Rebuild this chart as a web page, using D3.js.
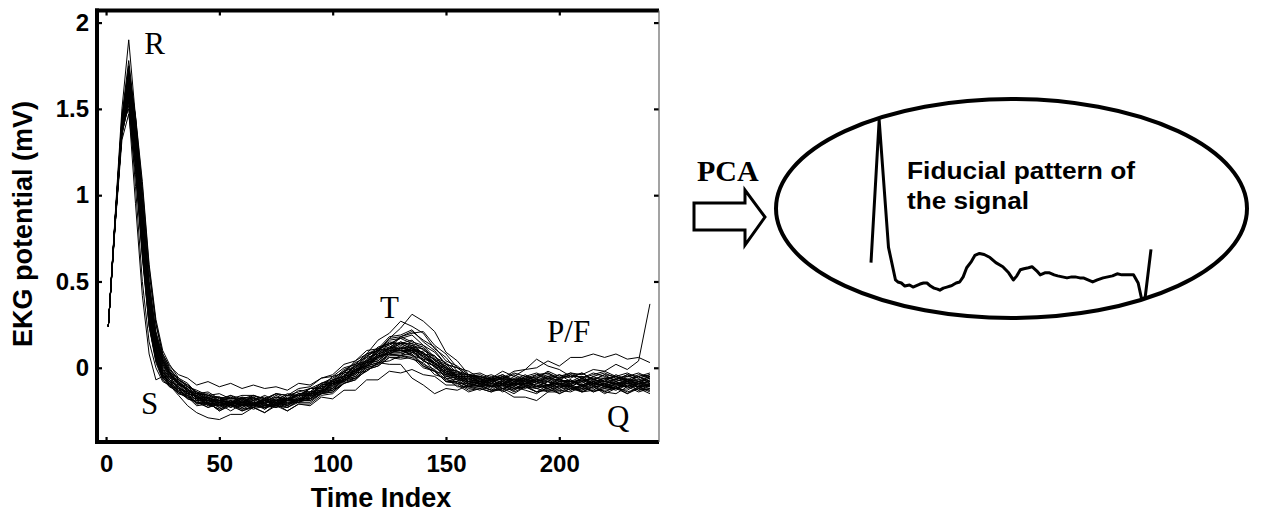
<!DOCTYPE html>
<html>
<head>
<meta charset="utf-8">
<script src="https://cdn.jsdelivr.net/npm/d3@7"></script>
<style>
  html, body { margin: 0; padding: 0; background: #fff; }
  svg { display: block; }
</style>
</head>
<body>
<svg id="fig" width="1261" height="512"></svg>
<script>
// Sample positions (time index) shared by every recorded beat
const timeIndex = [1, 4, 7, 10, 13, 16, 19, 22,
  25, 28, 32, 36, 40, 45, 50, 55, 60, 65, 70, 75, 80, 85, 90, 95,
  100, 105, 110, 115, 120, 125, 130, 135, 140, 145, 150, 155, 160,
  165, 170, 175, 180, 185, 190, 195, 200, 205, 210, 215, 220, 225, 230, 235, 240];

// Aligned heartbeats, EKG potential in mV
const beats = [
  [0.24, 0.88, 1.50, 1.90, 1.45, 0.95, 0.45, 0.18,
   0.04, -0.03, -0.09, -0.11, -0.16, -0.15, -0.19, -0.16, -0.20, -0.17, -0.21, -0.17, -0.19, -0.15, -0.16, -0.10,
   -0.09, -0.03, -0.02, 0.05, 0.09, 0.17, 0.23, 0.31, 0.27, 0.21, 0.09, 0.04, -0.04,
   -0.05, -0.08, -0.06, -0.09, -0.05, -0.08, -0.10, -0.06, -0.10, -0.06, -0.09, -0.10, -0.06, -0.07, -0.09, -0.06],
  [0.24, 0.84, 1.38, 1.62, 1.22, 0.70, 0.28, 0.06,
   -0.05, -0.08, -0.13, -0.14, -0.19, -0.18, -0.23, -0.20, -0.22, -0.19, -0.24, -0.19, -0.22, -0.18, -0.18, -0.13,
   -0.13, -0.07, -0.06, 0.00, 0.02, 0.08, 0.07, 0.12, 0.08, 0.07, -0.01, -0.02, -0.08,
   -0.06, -0.11, -0.08, -0.12, -0.09, -0.07, -0.10, -0.12, -0.08, -0.10, -0.12, -0.08, -0.09, -0.11, -0.08, -0.10],
  [0.24, 0.83, 1.35, 1.55, 1.18, 0.68, 0.25, 0.04,
   -0.06, -0.09, -0.15, -0.16, -0.21, -0.20, -0.25, -0.22, -0.25, -0.23, -0.26, -0.21, -0.25, -0.21, -0.22, -0.17,
   -0.18, -0.13, -0.13, -0.07, -0.07, -0.02, -0.03, -0.01, -0.04, -0.05, -0.10, -0.10, -0.14,
   -0.12, -0.14, -0.12, -0.15, -0.11, -0.14, -0.12, -0.15, -0.12, -0.14, -0.11, -0.14, -0.15, -0.11, -0.14, -0.12],
  [0.24, 0.86, 1.42, 1.70, 1.42, 1.02, 0.55, 0.25,
   0.08, 0.01, -0.04, -0.06, -0.10, -0.08, -0.11, -0.09, -0.12, -0.10, -0.12, -0.11, -0.13, -0.09, -0.10, -0.06,
   -0.05, 0.00, 0.02, 0.08, 0.10, 0.15, 0.14, 0.14, 0.08, 0.05, -0.02, -0.03, -0.07,
   -0.05, -0.07, -0.04, -0.08, -0.05, -0.03, -0.06, -0.04, -0.06, -0.03, -0.07, -0.04, -0.05, -0.07, -0.04, -0.05],
  [0.24, 0.85, 1.40, 1.50, 0.95, 0.42, 0.08, -0.07,
   -0.05, -0.11, -0.12, -0.18, -0.19, -0.23, -0.20, -0.23, -0.20, -0.22, -0.21, -0.22, -0.19, -0.20, -0.16, -0.15,
   -0.09, -0.07, -0.01, 0.01, 0.07, 0.08, 0.11, 0.07, 0.05, -0.02, -0.04, -0.09, -0.09,
   -0.11, -0.08, -0.12, -0.09, -0.10, -0.08, -0.13, -0.10, -0.11, -0.08, -0.11, -0.10, -0.12, -0.08, -0.12, -0.09],
  [0.24, 0.84, 1.37, 1.60, 1.28, 0.78, 0.32, 0.09,
   -0.04, -0.10, -0.16, -0.22, -0.26, -0.29, -0.30, -0.27, -0.27, -0.23, -0.26, -0.22, -0.25, -0.21, -0.21, -0.16,
   -0.15, -0.09, -0.07, -0.01, 0.01, 0.06, 0.06, 0.07, 0.01, -0.02, -0.08, -0.09, -0.13,
   -0.12, -0.14, -0.10, -0.14, -0.11, -0.12, -0.10, -0.15, -0.12, -0.13, -0.10, -0.14, -0.11, -0.15, -0.12, -0.13],
  [0.24, 0.86, 1.43, 1.72, 1.46, 1.08, 0.60, 0.28,
   0.10, 0.02, -0.06, -0.09, -0.15, -0.14, -0.18, -0.16, -0.18, -0.16, -0.18, -0.15, -0.18, -0.13, -0.14, -0.09,
   -0.08, -0.02, 0.00, 0.07, 0.10, 0.17, 0.18, 0.21, 0.16, 0.12, 0.04, 0.01, -0.04,
   -0.03, -0.06, -0.02, -0.05, -0.01, 0.00, 0.04, 0.01, 0.06, 0.06, 0.08, 0.06, 0.08, 0.05, 0.06, 0.03],
  [0.24, 0.85, 1.39, 1.63, 1.26, 0.74, 0.30, 0.08,
   -0.03, -0.07, -0.12, -0.14, -0.19, -0.19, -0.22, -0.19, -0.22, -0.19, -0.20, -0.19, -0.19, -0.16, -0.16, -0.11,
   -0.10, -0.05, -0.03, 0.03, 0.06, 0.11, 0.11, 0.13, 0.08, 0.05, -0.02, -0.04, -0.08,
   -0.07, -0.09, -0.05, -0.09, -0.06, -0.06, -0.04, -0.06, -0.03, -0.04, -0.01, -0.02, 0.02, -0.01, 0.04, 0.37],
  [0.24, 0.83, 1.36, 1.52, 1.16, 0.66, 0.26, 0.06,
   -0.04, -0.09, -0.12, -0.17, -0.18, -0.21, -0.20, -0.22, -0.21, -0.23, -0.19, -0.22, -0.18, -0.19, -0.15, -0.14,
   -0.09, -0.08, -0.03, -0.02, 0.03, 0.02, 0.02, -0.06, -0.10, -0.15, -0.12, -0.13, -0.10,
   -0.11, -0.10, -0.13, -0.09, -0.10, -0.12, -0.14, -0.11, -0.10, -0.12, -0.13, -0.09, -0.12, -0.13, -0.09, -0.11],
  [0.24, 0.87, 1.46, 1.78, 1.44, 0.98, 0.50, 0.21,
   0.07, -0.01, -0.07, -0.11, -0.14, -0.17, -0.17, -0.21, -0.18, -0.21, -0.18, -0.21, -0.17, -0.17, -0.12, -0.11,
   -0.05, -0.03, 0.04, 0.08, 0.16, 0.20, 0.27, 0.24, 0.20, 0.11, 0.06, -0.02, -0.04,
   -0.08, -0.07, -0.08, -0.09, -0.07, -0.08, -0.10, -0.07, -0.08, -0.10, -0.07, -0.08, -0.10, -0.07, -0.08, -0.09],
  [0.24, 0.85, 1.41, 1.66, 1.30, 0.82, 0.38, 0.13,
   0.00, -0.06, -0.08, -0.14, -0.15, -0.19, -0.19, -0.20, -0.20, -0.21, -0.18, -0.22, -0.19, -0.19, -0.15, -0.14,
   -0.09, -0.07, -0.01, 0.02, 0.08, 0.10, 0.14, 0.11, 0.09, 0.02, -0.01, -0.06, -0.06,
   -0.10, -0.07, -0.11, -0.08, -0.06, -0.09, -0.11, -0.08, -0.07, -0.11, -0.08, -0.06, -0.09, -0.08, -0.11, -0.07],
  [0.24, 0.84, 1.39, 1.64, 1.33, 0.88, 0.42, 0.16,
   0.03, -0.04, -0.09, -0.12, -0.18, -0.18, -0.21, -0.20, -0.21, -0.18, -0.22, -0.19, -0.19, -0.16, -0.16, -0.11,
   -0.10, -0.04, -0.02, 0.04, 0.07, 0.12, 0.11, 0.12, 0.06, 0.03, -0.03, -0.05, -0.09,
   -0.08, -0.11, -0.07, -0.10, -0.12, -0.09, -0.07, -0.10, -0.11, -0.07, -0.10, -0.12, -0.09, -0.07, -0.10, -0.11],
  [0.24, 0.86, 1.42, 1.68, 1.36, 0.90, 0.44, 0.17,
   0.04, -0.03, -0.10, -0.12, -0.18, -0.17, -0.21, -0.20, -0.18, -0.22, -0.19, -0.20, -0.19, -0.19, -0.14, -0.13,
   -0.07, -0.05, 0.01, 0.04, 0.10, 0.12, 0.15, 0.12, 0.11, 0.04, 0.01, -0.05, -0.05,
   -0.08, -0.07, -0.10, -0.06, -0.09, -0.08, -0.06, -0.07, -0.09, -0.06, -0.10, -0.07, -0.05, -0.08, -0.07, -0.05],
  [0.24, 0.84, 1.37, 1.59, 1.20, 0.70, 0.27, 0.05,
   -0.06, -0.09, -0.14, -0.16, -0.20, -0.21, -0.24, -0.21, -0.24, -0.23, -0.22, -0.23, -0.21, -0.20, -0.18, -0.15,
   -0.12, -0.07, -0.05, 0.01, 0.03, 0.08, 0.07, 0.08, 0.02, -0.01, -0.07, -0.08, -0.11,
   -0.10, -0.13, -0.09, -0.12, -0.11, -0.14, -0.10, -0.11, -0.13, -0.10, -0.14, -0.11, -0.12, -0.09, -0.13, -0.10],
  [0.24, 0.85, 1.40, 1.67, 1.39, 0.95, 0.49, 0.20,
   0.06, -0.01, -0.07, -0.10, -0.14, -0.16, -0.17, -0.20, -0.17, -0.18, -0.17, -0.20, -0.16, -0.16, -0.12, -0.12,
   -0.07, -0.05, 0.02, 0.04, 0.11, 0.13, 0.18, 0.15, 0.13, 0.06, 0.03, -0.03, -0.04,
   -0.07, -0.06, -0.04, -0.07, -0.06, -0.04, -0.03, -0.07, -0.04, -0.08, -0.05, -0.03, -0.06, -0.05, -0.03, -0.06],
  [0.24, 0.83, 1.36, 1.57, 1.17, 0.66, 0.24, 0.03,
   -0.07, -0.11, -0.14, -0.18, -0.20, -0.23, -0.21, -0.25, -0.21, -0.24, -0.22, -0.22, -0.23, -0.19, -0.19, -0.15,
   -0.14, -0.08, -0.06, 0.00, 0.02, 0.07, 0.07, 0.09, 0.04, 0.01, -0.05, -0.06, -0.10,
   -0.09, -0.11, -0.10, -0.13, -0.09, -0.10, -0.12, -0.09, -0.13, -0.10, -0.08, -0.11, -0.13, -0.10, -0.11, -0.13],
  [0.24, 0.86, 1.44, 1.74, 1.35, 0.84, 0.36, 0.12,
   -0.01, -0.05, -0.07, -0.13, -0.14, -0.18, -0.17, -0.18, -0.18, -0.19, -0.16, -0.19, -0.15, -0.16, -0.12, -0.12,
   -0.08, -0.07, -0.01, 0.01, 0.08, 0.11, 0.18, 0.20, 0.21, 0.13, 0.08, 0.00, -0.02,
   -0.06, -0.06, -0.07, -0.07, -0.08, -0.04, -0.07, -0.07, -0.08, -0.05, -0.09, -0.06, -0.05, -0.08, -0.05, -0.08],
  [0.24, 0.85, 1.39, 1.61, 1.24, 0.73, 0.31, 0.09,
   -0.03, -0.07, -0.11, -0.15, -0.16, -0.20, -0.19, -0.23, -0.20, -0.21, -0.20, -0.20, -0.22, -0.18, -0.18, -0.13,
   -0.11, -0.05, -0.03, 0.04, 0.06, 0.11, 0.10, 0.10, 0.04, 0.01, -0.05, -0.06, -0.10,
   -0.09, -0.12, -0.08, -0.11, -0.07, -0.11, -0.10, -0.08, -0.11, -0.12, -0.08, -0.11, -0.10, -0.08, -0.11, -0.10],
  [0.24, 0.85, 1.41, 1.65, 1.32, 0.86, 0.40, 0.15,
   0.02, -0.04, -0.10, -0.12, -0.17, -0.17, -0.20, -0.17, -0.20, -0.16, -0.19, -0.15, -0.16, -0.12, -0.11, -0.06,
   -0.04, 0.02, 0.04, 0.10, 0.11, 0.14, 0.10, 0.08, 0.01, -0.02, -0.08, -0.08, -0.11,
   -0.08, -0.11, -0.07, -0.10, -0.09, -0.07, -0.08, -0.10, -0.07, -0.11, -0.08, -0.09, -0.11, -0.08, -0.09, -0.10],
  [0.24, 0.84, 1.38, 1.63, 1.33, 0.89, 0.44, 0.18,
   0.05, -0.02, -0.09, -0.13, -0.17, -0.21, -0.20, -0.21, -0.21, -0.22, -0.19, -0.22, -0.19, -0.19, -0.15, -0.14,
   -0.09, -0.08, -0.02, 0.00, 0.06, 0.08, 0.12, 0.10, 0.09, 0.03, 0.00, -0.06, -0.06,
   -0.09, -0.08, -0.06, -0.09, -0.11, -0.08, -0.06, -0.09, -0.10, -0.06, -0.09, -0.11, -0.08, -0.06, -0.10, -0.07],
  [0.24, 0.82, 1.32, 1.47, 1.12, 0.64, 0.24, 0.05,
   -0.06, -0.10, -0.13, -0.17, -0.20, -0.20, -0.23, -0.20, -0.21, -0.21, -0.22, -0.21, -0.21, -0.18, -0.18, -0.14,
   -0.13, -0.07, -0.05, 0.01, 0.03, 0.08, 0.08, 0.10, 0.05, 0.03, -0.04, -0.05, -0.09,
   -0.08, -0.09, -0.09, -0.10, -0.07, -0.11, -0.08, -0.12, -0.09, -0.07, -0.10, -0.09, -0.08, -0.12, -0.09, -0.10],
  [0.24, 0.86, 1.42, 1.69, 1.31, 0.80, 0.34, 0.11,
   -0.02, -0.06, -0.08, -0.14, -0.15, -0.19, -0.19, -0.20, -0.17, -0.21, -0.18, -0.19, -0.18, -0.18, -0.14, -0.13,
   -0.07, -0.05, 0.01, 0.03, 0.10, 0.11, 0.14, 0.11, 0.09, 0.02, 0.00, -0.05, -0.05,
   -0.08, -0.05, -0.06, -0.02, -0.01, 0.05, 0.01, -0.01, -0.05, -0.05, -0.06, -0.06, -0.07, -0.04, -0.08, -0.05],
  [0.24, 0.84, 1.38, 1.60, 1.28, 0.82, 0.38, 0.14,
   0.01, -0.05, -0.12, -0.14, -0.19, -0.19, -0.22, -0.19, -0.23, -0.20, -0.23, -0.19, -0.22, -0.18, -0.18, -0.13,
   -0.12, -0.06, -0.04, 0.02, 0.04, 0.09, 0.09, 0.10, 0.04, 0.01, -0.06, -0.07, -0.11,
   -0.10, -0.13, -0.13, -0.17, -0.17, -0.19, -0.14, -0.14, -0.11, -0.14, -0.13, -0.13, -0.12, -0.15, -0.11, -0.14],
  [0.24, 0.85, 1.40, 1.62, 1.23, 0.72, 0.29, 0.07,
   -0.04, -0.08, -0.10, -0.15, -0.16, -0.20, -0.19, -0.20, -0.19, -0.22, -0.18, -0.21, -0.18, -0.19, -0.15, -0.14,
   -0.08, -0.06, 0.00, 0.03, 0.09, 0.11, 0.15, 0.13, 0.11, 0.04, 0.01, -0.05, -0.05,
   -0.09, -0.06, -0.09, -0.05, -0.08, -0.07, -0.05, -0.08, -0.08, -0.09, -0.05, -0.08, -0.07, -0.08, -0.05, -0.09],
  [0.24, 0.86, 1.43, 1.71, 1.45, 1.05, 0.58, 0.26,
   0.08, 0.00, -0.07, -0.10, -0.15, -0.16, -0.19, -0.18, -0.18, -0.17, -0.20, -0.16, -0.19, -0.15, -0.15, -0.10,
   -0.08, -0.02, 0.01, 0.07, 0.10, 0.16, 0.17, 0.19, 0.13, 0.09, 0.02, 0.00, -0.05,
   -0.05, -0.07, -0.05, -0.07, -0.04, -0.08, -0.05, -0.06, -0.05, -0.03, -0.07, -0.04, -0.08, -0.05, -0.06, -0.04],
  [0.24, 0.83, 1.35, 1.54, 1.19, 0.70, 0.28, 0.07,
   -0.05, -0.08, -0.14, -0.15, -0.21, -0.20, -0.25, -0.21, -0.25, -0.22, -0.23, -0.22, -0.23, -0.20, -0.20, -0.15,
   -0.14, -0.09, -0.07, -0.01, 0.01, 0.06, 0.05, 0.06, 0.00, -0.02, -0.08, -0.09, -0.12,
   -0.11, -0.13, -0.12, -0.13, -0.10, -0.14, -0.13, -0.13, -0.10, -0.14, -0.11, -0.15, -0.12, -0.10, -0.13, -0.12],
  [0.24, 0.85, 1.40, 1.64, 1.27, 0.77, 0.33, 0.10,
   -0.02, -0.07, -0.09, -0.15, -0.16, -0.21, -0.20, -0.21, -0.20, -0.23, -0.19, -0.22, -0.18, -0.19, -0.15, -0.14,
   -0.09, -0.07, -0.01, 0.01, 0.07, 0.09, 0.13, 0.10, 0.08, 0.01, -0.02, -0.07, -0.07,
   -0.10, -0.07, -0.10, -0.09, -0.09, -0.06, -0.10, -0.09, -0.09, -0.08, -0.06, -0.10, -0.09, -0.09, -0.08, -0.06],
  [0.24, 0.86, 1.41, 1.67, 1.34, 0.87, 0.41, 0.16,
   0.03, -0.03, -0.10, -0.12, -0.17, -0.17, -0.20, -0.19, -0.20, -0.17, -0.21, -0.18, -0.19, -0.15, -0.15, -0.10,
   -0.09, -0.03, -0.01, 0.06, 0.08, 0.14, 0.14, 0.16, 0.10, 0.07, 0.00, -0.02, -0.06,
   -0.06, -0.09, -0.05, -0.08, -0.07, -0.07, -0.08, -0.04, -0.08, -0.07, -0.07, -0.08, -0.04, -0.07, -0.07, -0.08],
  [0.24, 0.85, 1.39, 1.60, 1.36, 0.93, 0.47, 0.19,
   0.05, -0.02, -0.08, -0.13, -0.17, -0.19, -0.18, -0.22, -0.19, -0.20, -0.21, -0.18, -0.21, -0.17, -0.17, -0.12,
   -0.11, -0.05, -0.03, 0.03, 0.05, 0.10, 0.10, 0.11, 0.07, 0.03, -0.03, -0.04, -0.08,
   -0.07, -0.10, -0.09, -0.07, -0.10, -0.11, -0.08, -0.10, -0.07, -0.11, -0.09, -0.07, -0.10, -0.11, -0.08, -0.09],
  [0.24, 0.84, 1.37, 1.58, 1.25, 0.79, 0.35, 0.12,
   -0.01, -0.07, -0.11, -0.15, -0.17, -0.21, -0.22, -0.21, -0.23, -0.20, -0.21, -0.23, -0.20, -0.20, -0.16, -0.15,
   -0.10, -0.08, -0.02, 0.01, 0.06, 0.09, 0.12, 0.09, 0.07, 0.00, -0.03, -0.07, -0.08,
   -0.11, -0.09, -0.12, -0.10, -0.08, -0.12, -0.10, -0.09, -0.12, -0.10, -0.08, -0.11, -0.12, -0.09, -0.10, -0.12],
  [0.24, 0.86, 1.44, 1.75, 1.42, 0.92, 0.43, 0.15,
   0.02, -0.05, -0.08, -0.13, -0.15, -0.18, -0.19, -0.17, -0.20, -0.18, -0.19, -0.17, -0.18, -0.15, -0.14, -0.09,
   -0.07, -0.01, 0.02, 0.08, 0.11, 0.18, 0.19, 0.22, 0.15, 0.10, 0.02, 0.00, -0.05,
   -0.04, -0.07, -0.06, -0.04, -0.07, -0.05, -0.03, -0.06, -0.04, -0.06, -0.03, -0.05, -0.07, -0.04, -0.05, -0.03],
  [0.24, 0.84, 1.38, 1.56, 1.05, 0.50, 0.15, 0.00,
   -0.08, -0.10, -0.15, -0.17, -0.22, -0.21, -0.24, -0.21, -0.24, -0.21, -0.24, -0.20, -0.23, -0.19, -0.19, -0.15,
   -0.13, -0.09, -0.06, -0.02, 0.03, 0.04, 0.07, 0.05, 0.03, -0.04, -0.06, -0.11, -0.11,
   -0.13, -0.10, -0.14, -0.11, -0.13, -0.15, -0.11, -0.13, -0.14, -0.11, -0.14, -0.12, -0.11, -0.14, -0.12, -0.15],
  [0.24, 0.85, 1.41, 1.69, 1.38, 0.94, 0.46, 0.18,
   0.05, -0.03, -0.06, -0.11, -0.13, -0.16, -0.15, -0.18, -0.16, -0.16, -0.18, -0.15, -0.16, -0.14, -0.12, -0.09,
   -0.06, -0.02, 0.03, 0.06, 0.12, 0.14, 0.17, 0.14, 0.12, 0.05, 0.02, -0.04, -0.04,
   -0.06, -0.04, -0.07, -0.03, -0.05, -0.06, -0.02, -0.05, -0.03, -0.06, -0.04, -0.02, -0.05, -0.03, -0.06, -0.04],
  [0.24, 0.83, 1.36, 1.58, 1.20, 0.72, 0.30, 0.10,
   -0.03, -0.08, -0.11, -0.16, -0.18, -0.22, -0.21, -0.22, -0.22, -0.21, -0.23, -0.21, -0.20, -0.19, -0.17, -0.13,
   -0.12, -0.06, -0.04, 0.03, 0.04, 0.10, 0.09, 0.11, 0.06, 0.02, -0.04, -0.05, -0.09,
   -0.08, -0.11, -0.10, -0.12, -0.09, -0.10, -0.12, -0.09, -0.11, -0.13, -0.09, -0.10, -0.12, -0.09, -0.11, -0.10]
];

const xTicks = [0, 50, 100, 150, 200];
const yTicks = [0, 0.5, 1, 1.5, 2];
const waveLabels = ["R", "S", "T", "P/F", "Q"];

// Principal pattern extracted from the beats (arbitrary units)
const patternIndex = [0, 7, 15, 21, 23, 26, 29, 33, 36, 40,
  42, 45, 48, 51, 54, 57, 59, 62, 65, 68,
  70, 73, 76, 79, 82, 86, 89, 93, 97, 102,
  107, 113, 118, 122, 125, 128, 131, 135, 138, 142,
  145, 149, 153, 157, 160, 164, 168, 172, 175, 179,
  182, 186, 190, 194, 199, 203, 207, 211, 215, 218,
  222, 225, 229, 232, 235, 240];
const patternValue = [0.20, 1.60, 0.35, 0.03, 0.01, 0.00, -0.03, -0.02, -0.04, -0.02,
  -0.01, 0.00, 0.00, -0.03, -0.05, -0.06, -0.07, -0.05, -0.04, -0.03,
  -0.02, 0.00, 0.01, 0.06, 0.15, 0.21, 0.27, 0.29, 0.28, 0.25,
  0.20, 0.16, 0.10, 0.03, 0.07, 0.13, 0.14, 0.15, 0.16, 0.12,
  0.08, 0.10, 0.10, 0.08, 0.07, 0.06, 0.05, 0.06, 0.06, 0.05,
  0.05, 0.03, 0.01, 0.03, 0.05, 0.06, 0.07, 0.09, 0.08, 0.08,
  0.08, 0.08, 0.00, -0.16, -0.14, 0.33];

const SANS = "'Liberation Sans', Arial, sans-serif";
const SERIF = "'Liberation Serif', 'Times New Roman', serif";

const svg = d3.select("#fig");

// ---------- left panel: overlaid beats ----------
const plot = { left: 97, right: 659, top: 10.5, bottom: 442 };
const x = d3.scaleLinear().domain([-4, 244]).range([plot.left, plot.right]);
const y = d3.scaleLinear().domain([-0.43, 2.07]).range([plot.bottom, plot.top]);

svg.append("defs").append("clipPath").attr("id", "plotClip")
  .append("rect")
  .attr("x", plot.left).attr("y", plot.top)
  .attr("width", plot.right - plot.left).attr("height", plot.bottom - plot.top);

const beatLine = d3.line()
  .defined(d => d[1] != null)
  .x(d => x(d[0]))
  .y(d => y(d[1]));

svg.append("g")
  .attr("clip-path", "url(#plotClip)")
  .selectAll("path")
  .data(beats)
  .join("path")
  .attr("d", b => beatLine(b.map((v, j) => [timeIndex[j], v])))
  .attr("fill", "none")
  .attr("stroke", "#000")
  .attr("stroke-width", 1)
  .attr("stroke-linejoin", "round");

function styleAxis(g, labels) {
  g.select(".domain").remove();
  g.selectAll(".tick line").attr("stroke", "#000").attr("stroke-width", 2.2);
  g.selectAll(".tick text")
    .attr("fill", "#000")
    .style("font-family", SANS)
    .style("font-weight", "bold")
    .style("font-size", "24px");
  if (!labels) g.selectAll(".tick text").remove();
}

svg.append("g").attr("transform", `translate(0,${plot.bottom})`)
  .call(d3.axisBottom(x).tickValues(xTicks).tickSizeInner(-5).tickSizeOuter(0).tickPadding(13))
  .call(g => styleAxis(g, true));
svg.append("g").attr("transform", `translate(0,${plot.top})`)
  .call(d3.axisTop(x).tickValues(xTicks).tickSizeInner(-5).tickSizeOuter(0))
  .call(g => styleAxis(g, false));
svg.append("g").attr("transform", `translate(${plot.left},0)`)
  .call(d3.axisLeft(y).tickValues(yTicks).tickSizeInner(-5).tickSizeOuter(0).tickPadding(8)
    .tickFormat(d => String(d)))
  .call(g => styleAxis(g, true));
svg.append("g").attr("transform", `translate(${plot.right},0)`)
  .call(d3.axisRight(y).tickValues(yTicks).tickSizeInner(-5).tickSizeOuter(0))
  .call(g => styleAxis(g, false));

// frame: heavy on left, top and bottom, hairline on the right
const frame = svg.append("g").attr("stroke", "#000").attr("fill", "none");
frame.append("line").attr("x1", plot.left - 2).attr("x2", plot.right).attr("y1", plot.top).attr("y2", plot.top).attr("stroke-width", 4);
frame.append("line").attr("x1", plot.left - 2).attr("x2", plot.right).attr("y1", plot.bottom).attr("y2", plot.bottom).attr("stroke-width", 4);
frame.append("line").attr("x1", plot.left).attr("x2", plot.left).attr("y1", plot.top - 2).attr("y2", plot.bottom + 2).attr("stroke-width", 4);
frame.append("line").attr("x1", plot.right).attr("x2", plot.right).attr("y1", plot.top).attr("y2", plot.bottom).attr("stroke-width", 1.2).attr("stroke", "#666");

// axis titles
svg.append("text")
  .attr("x", (plot.left + plot.right) / 2 + 3).attr("y", 507)
  .attr("text-anchor", "middle")
  .style("font-family", SANS).style("font-weight", "bold").style("font-size", "27px")
  .text("Time Index");
svg.append("text")
  .attr("transform", "translate(32,224) rotate(-90)")
  .attr("text-anchor", "middle")
  .style("font-family", SANS).style("font-weight", "bold").style("font-size", "27px")
  .text("EKG potential (mV)");

// wave labels, placed in data coordinates
const labelAt = [[16.8, 1.82], [15.4, -0.267], [120.9, 0.29], [194.6, 0.151], [221.1, -0.342]];
svg.append("g").selectAll("text")
  .data(waveLabels)
  .join("text")
  .attr("x", (d, i) => x(labelAt[i][0]))
  .attr("y", (d, i) => y(labelAt[i][1]))
  .style("font-family", SERIF).style("font-size", "31px")
  .text(d => d);

// ---------- arrow ----------
svg.append("text")
  .attr("x", 697).attr("y", 181)
  .style("font-family", SERIF).style("font-weight", "bold").style("font-size", "30px")
  .text("PCA");
svg.append("path")
  .attr("d", "M694,203 L745,203 L745,190 L765,217 L745,245 L745,230 L694,230 Z")
  .attr("fill", "#fff").attr("stroke", "#000").attr("stroke-width", 3)
  .attr("stroke-linejoin", "miter");

// ---------- right panel: fiducial pattern ----------
svg.append("ellipse")
  .attr("cx", 1011.5).attr("cy", 208.5).attr("rx", 235.5).attr("ry", 109.5)
  .attr("fill", "none").attr("stroke", "#000").attr("stroke-width", 4);

const px = d3.scaleLinear().domain([0, 240]).range([871, 1151]);
const py = d3.scaleLinear().domain([0, 1.6]).range([283, 120]);
const patternLine = d3.line().x(d => px(d[0])).y(d => py(d[1]));
svg.append("path")
  .attr("d", patternLine(patternIndex.map((t, i) => [t, patternValue[i]])))
  .attr("fill", "none").attr("stroke", "#000").attr("stroke-width", 3)
  .attr("stroke-linejoin", "round");

const caption = svg.append("g")
  .style("font-family", SANS).style("font-weight", "bold").style("font-size", "23px");
caption.append("text").attr("x", 907).attr("y", 179)
  .attr("textLength", 228).attr("lengthAdjust", "spacingAndGlyphs")
  .text("Fiducial pattern of");
caption.append("text").attr("x", 907).attr("y", 209)
  .attr("textLength", 122).attr("lengthAdjust", "spacingAndGlyphs")
  .text("the signal");
</script>
</body>
</html>
